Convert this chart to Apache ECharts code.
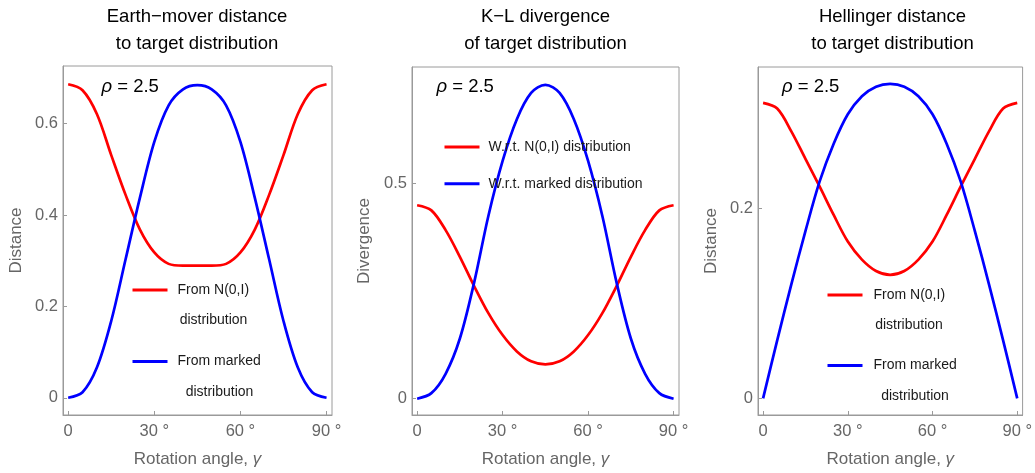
<!DOCTYPE html>
<html>
<head>
<meta charset="utf-8">
<title>Distances to target distribution vs rotation angle</title>
<script src="https://cdn.jsdelivr.net/npm/echarts@6/dist/echarts.min.js"></script>
<style>
  html, body { margin: 0; padding: 0; background: #fff; }
  #chart { width: 1035px; height: 473px; }
</style>
</head>
<body>
<div id="chart"></div>
<script>
// rotation angle (degrees)
const angles = [0, 5, 10, 15, 20, 25, 30, 35, 40, 45, 50, 55, 60, 65, 70, 75, 80, 85, 90];

// Earth-mover distance
const emdFromNormal = [0.686, 0.673, 0.621, 0.531, 0.444, 0.368, 0.318, 0.293, 0.289, 0.289, 0.289, 0.293, 0.318, 0.368, 0.444, 0.531, 0.621, 0.673, 0.686];
const emdFromMarked = [0, 0.012, 0.066, 0.168, 0.303, 0.438, 0.560, 0.640, 0.675, 0.684, 0.675, 0.640, 0.560, 0.438, 0.303, 0.168, 0.066, 0.012, 0];

// K-L divergence
const klWrtNormal = [0.450, 0.438, 0.392, 0.330, 0.262, 0.199, 0.148, 0.110, 0.087, 0.080, 0.087, 0.110, 0.148, 0.199, 0.262, 0.330, 0.392, 0.438, 0.450];
const klWrtMarked = [0, 0.013, 0.058, 0.140, 0.270, 0.425, 0.553, 0.650, 0.711, 0.730, 0.711, 0.650, 0.553, 0.425, 0.270, 0.140, 0.058, 0.013, 0];

// Hellinger distance
const helFromNormal = [0.311, 0.305, 0.281, 0.252, 0.223, 0.193, 0.165, 0.146, 0.134, 0.130, 0.134, 0.146, 0.165, 0.193, 0.223, 0.252, 0.281, 0.305, 0.311];
const helFromMarked = [0, 0.061, 0.120, 0.176, 0.228, 0.268, 0.299, 0.318, 0.328, 0.331, 0.328, 0.318, 0.299, 0.268, 0.228, 0.176, 0.120, 0.061, 0];

// tick labels
const xTicks = [0, 30, 60, 90];
const emdTicks = [0, 0.2, 0.4, 0.6];
const klTicks = [0, 0.5];
const helTicks = [0, 0.2];

const font = 'Liberation Sans, Arial, sans-serif';
const frameColor = '#9a9a9a';
const labelColor = '#666';
const red = '#ff0000';
const blue = '#0000ff';

const chart = echarts.init(document.getElementById('chart'));

function pairs(values) {
    return angles.map((a, i) => [a, values[i]]);
}

function xAxisFor(idx) {
    return {
        type: 'value', gridIndex: idx, min: -1.8, max: 91.9,
        name: 'Rotation angle, {i|γ}', nameLocation: 'middle', nameGap: 36,
        nameTextStyle: {
            color: labelColor, fontSize: 17, fontFamily: font,
            rich: { i: { color: labelColor, fontSize: 17, fontFamily: font, fontStyle: 'italic' } }
        },
        axisLine: { show: true, onZero: false, lineStyle: { color: frameColor } },
        axisTick: { show: true, inside: true, length: 4, customValues: xTicks, lineStyle: { color: frameColor } },
        axisLabel: {
            customValues: xTicks, margin: 8, color: labelColor, fontSize: 16.5, fontFamily: font,
            formatter: v => v === 0 ? '0' : v + ' °'
        },
        splitLine: { show: false }
    };
}

function yAxisFor(idx, name, min, max, ticks, gap) {
    return {
        type: 'value', gridIndex: idx, min: min, max: max,
        name: name, nameLocation: 'middle', nameGap: gap,
        nameTextStyle: { color: labelColor, fontSize: 17, fontFamily: font },
        axisLine: { show: true, onZero: false, lineStyle: { color: frameColor } },
        axisTick: { show: true, inside: true, length: 4, customValues: ticks, lineStyle: { color: frameColor } },
        axisLabel: { customValues: ticks, margin: 5, color: labelColor, fontSize: 16.5, fontFamily: font },
        splitLine: { show: false }
    };
}

// smooth ~1/3 behaves like a Catmull-Rom spline without clamping kinks
function curve(name, idx, values, color) {
    return {
        name: name, type: 'line', xAxisIndex: idx, yAxisIndex: idx,
        data: pairs(values), smooth: 0.33, symbol: 'none', showSymbol: false,
        lineStyle: { color: color, width: 2.7 }, itemStyle: { color: color },
        animation: false
    };
}

function panelTitle(text, cx) {
    return {
        text: text, left: cx, top: 3, textAlign: 'center', padding: 0,
        textStyle: { color: '#000', fontSize: 18.5, fontWeight: 'normal', fontFamily: font, lineHeight: 27 }
    };
}

function rhoLabel(x) {
    return {
        text: '{i|ρ} = 2.5', left: x, top: 76, padding: 0,
        textStyle: {
            color: '#000', fontSize: 18.5, fontWeight: 'normal', fontFamily: font, lineHeight: 21,
            rich: { i: { color: '#000', fontSize: 18.5, fontFamily: font, fontStyle: 'italic', lineHeight: 21 } }
        }
    };
}

// two-line legend entries drawn inside panels 1 and 3
function twoLineLegend(lineX, textX, y, color, first, secondCenter) {
    return [
        { type: 'line', shape: { x1: lineX, y1: y, x2: lineX + 35, y2: y }, style: { stroke: color, lineWidth: 3 } },
        { type: 'text', x: textX, y: y, style: { text: first, fill: '#1a1a1a', font: '14px ' + font, align: 'left', verticalAlign: 'middle' } },
        { type: 'text', x: secondCenter, y: y + 30.5, style: { text: 'distribution', fill: '#1a1a1a', font: '14px ' + font, align: 'center', verticalAlign: 'middle' } }
    ];
}

const option = {
    backgroundColor: '#fff',
    animation: false,
    title: [
        panelTitle('Earth−mover distance\nto target distribution', 197),
        panelTitle('K−L divergence\nof target distribution', 545.5),
        panelTitle('Hellinger distance\nto target distribution', 892.5),
        rhoLabel(101.5),
        rhoLabel(436.5),
        rhoLabel(782)
    ],
    grid: [
        { left: 63, top: 66, width: 269, height: 350, show: true, borderColor: frameColor, borderWidth: 1, backgroundColor: '#fff' },
        { left: 412, top: 67, width: 267, height: 348, show: true, borderColor: frameColor, borderWidth: 1, backgroundColor: '#fff' },
        { left: 758, top: 67, width: 269, height: 349, show: true, borderColor: frameColor, borderWidth: 1, backgroundColor: '#fff' }
    ],
    xAxis: [xAxisFor(0), xAxisFor(1), xAxisFor(2)],
    yAxis: [
        yAxisFor(0, 'Distance', -0.0377, 0.726, emdTicks, 38),
        yAxisFor(1, 'Divergence', -0.0379, 0.7714, klTicks, 39),
        yAxisFor(2, 'Distance', -0.0175, 0.3487, helTicks, 38)
    ],
    legend: {
        data: ['W.r.t. N(0,I) distribution', 'W.r.t. marked distribution'],
        orient: 'vertical', left: 444.5, top: 139, padding: 0,
        itemWidth: 35, itemHeight: 3, itemGap: 20.7, icon: 'rect',
        textStyle: { color: '#1a1a1a', fontSize: 14, fontFamily: font, lineHeight: 16, padding: [0, 0, 0, 4] },
        selectedMode: false
    },
    graphic: [
        ...twoLineLegend(132.5, 177.5, 290, red, 'From N(0,I)', 213.5),
        ...twoLineLegend(132.5, 177.5, 361.5, blue, 'From marked', 219.5),
        ...twoLineLegend(827.5, 873.5, 295, red, 'From N(0,I)', 909),
        ...twoLineLegend(827.5, 873.5, 365.5, blue, 'From marked', 915)
    ],
    series: [
        curve('From N(0,I) distribution', 0, emdFromNormal, red),
        curve('From marked distribution', 0, emdFromMarked, blue),
        curve('W.r.t. N(0,I) distribution', 1, klWrtNormal, red),
        curve('W.r.t. marked distribution', 1, klWrtMarked, blue),
        curve('From N(0,I) distribution', 2, helFromNormal, red),
        curve('From marked distribution', 2, helFromMarked, blue)
    ]
};

chart.setOption(option);
window.addEventListener('resize', function () {
    chart.resize();
});
</script>
</body>
</html>
